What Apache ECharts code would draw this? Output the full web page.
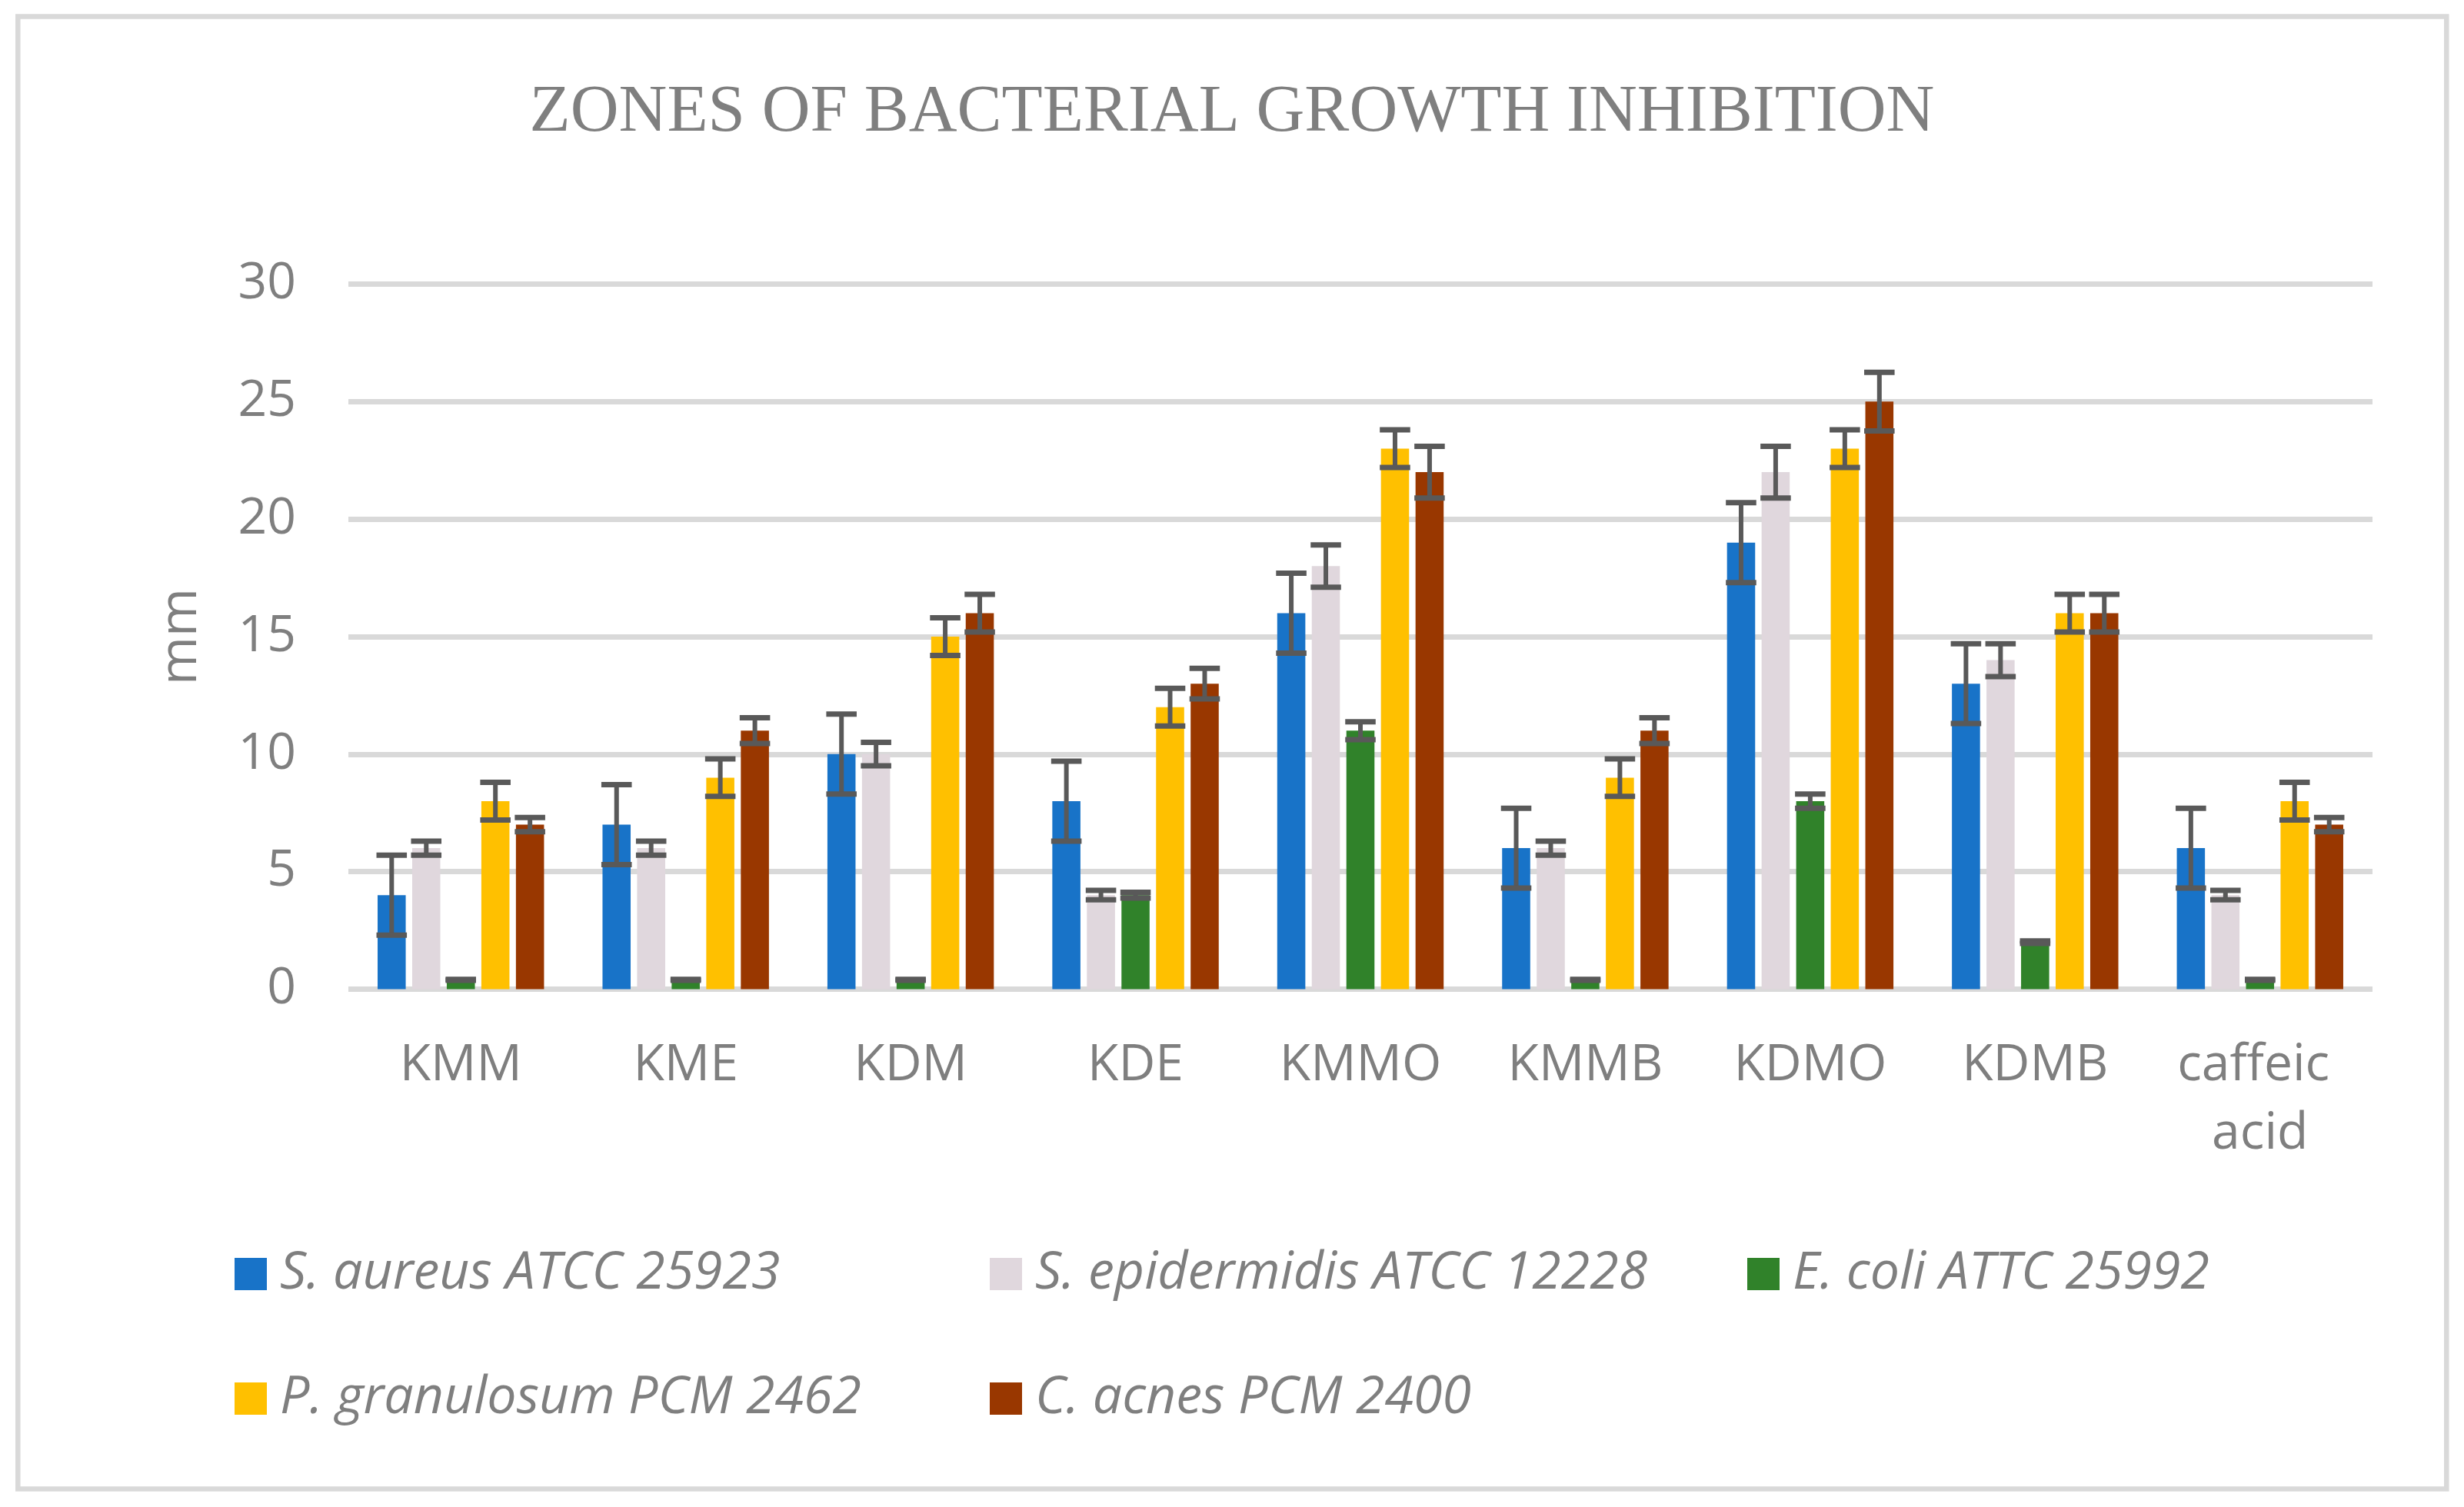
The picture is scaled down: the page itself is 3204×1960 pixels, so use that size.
<!DOCTYPE html>
<html>
<head>
<meta charset="utf-8">
<script src="https://cdn.jsdelivr.net/npm/echarts@6/dist/echarts.min.js"></script>
<style>
html,body{margin:0;padding:0;background:#fff;}
#chart{width:3204px;height:1960px;}
</style>
</head>
<body>
<div id="chart"></div>
<script>
const categories = ['KMM','KME','KDM','KDE','KMMO','KMMB','KDMO','KDMB','caffeic acid'];
const seriesNames = ['S. aureus ATCC 25923','S. epidermidis ATCC 12228','E. coli ATTC 25992','P. granulosum PCM 2462','C. acnes PCM 2400'];
const saureus = [4, 7, 10, 8, 16, 6, 19, 13, 6];
const saureusErr = [1.7, 1.7, 1.7, 1.7, 1.7, 1.7, 1.7, 1.7, 1.7];
const sepidermidis = [6, 6, 10, 4, 18, 6, 22, 14, 4];
const sepidermidisErr = [0.3, 0.3, 0.5, 0.2, 0.9, 0.3, 1.1, 0.7, 0.2];
const ecoli = [0.4, 0.4, 0.4, 4, 11, 0.4, 8, 2, 0.4];
const ecoliErr = [0.02, 0.02, 0.02, 0.12, 0.38, 0.02, 0.3, 0.05, 0.02];
const pgranulosum = [8, 9, 15, 12, 23, 9, 23, 16, 8];
const pgranulosumErr = [0.8, 0.8, 0.8, 0.8, 0.8, 0.8, 0.8, 0.8, 0.8];
const cacnes = [7, 11, 16, 13, 22, 11, 25, 16, 7];
const cacnesErr = [0.3, 0.55, 0.8, 0.65, 1.1, 0.55, 1.25, 0.8, 0.3];
const yTicks = [0, 5, 10, 15, 20, 25, 30];

const values = [saureus, sepidermidis, ecoli, pgranulosum, cacnes];
const errors = [saureusErr, sepidermidisErr, ecoliErr, pgranulosumErr, cacnesErr];
const colors = ['#1873c8', '#e0d7dd', '#30822a', '#ffc000', '#993700'];

const BAR_FRAC = 0.125;
const GAP_FRAC = 0.23;

const chart = echarts.init(document.getElementById('chart'), null, {renderer: 'canvas'});

const series = [];
values.forEach((vals, i) => {
  series.push({
    name: seriesNames[i],
    type: 'bar',
    data: vals,
    barWidth: (BAR_FRAC * 100) + '%',
    barGap: (GAP_FRAC * 100) + '%',
    itemStyle: {color: colors[i]},
    z: 2
  });
});
values.forEach((vals, i) => {
  series.push({
    name: 'err' + i,
    type: 'custom',
    z: 5,
    silent: true,
    data: vals.map((v, k) => [k, v - errors[i][k], v + errors[i][k]]),
    encode: {x: 0, y: [1, 2]},
    renderItem: function (params, api) {
      const k = api.value(0);
      const lo = api.coord([k, api.value(1)]);
      const hi = api.coord([k, api.value(2)]);
      const bw = api.size([1, 0])[0];
      const bar = bw * BAR_FRAC;
      const pitch = bar * (1 + GAP_FRAC);
      const x = lo[0] + (i - 2) * pitch;
      const half = bar / 2 + 1.5;
      const st = {stroke: '#595959', lineWidth: 7};
      return {
        type: 'group',
        children: [
          {type: 'line', shape: {x1: x, y1: hi[1], x2: x, y2: lo[1]}, style: {stroke: '#595959', lineWidth: 6}},
          {type: 'line', shape: {x1: x - half, y1: hi[1], x2: x + half, y2: hi[1]}, style: st},
          {type: 'line', shape: {x1: x - half, y1: lo[1], x2: x + half, y2: lo[1]}, style: st}
        ]
      };
    }
  });
});

const legendPos = [
  {left: 305, top: 1623},
  {left: 1287, top: 1623},
  {left: 2272, top: 1623},
  {left: 305, top: 1785},
  {left: 1287, top: 1785}
];
const legends = seriesNames.map((n, i) => ({
  data: [n],
  left: legendPos[i].left,
  top: legendPos[i].top,
  padding: 0,
  itemWidth: 42,
  itemHeight: 42,
  icon: 'rect',
  selectedMode: false,
  textStyle: {
    fontFamily: 'Open Sans',
    fontStyle: 'italic',
    fontSize: 68,
    color: '#7f7f7f',
    lineHeight: 42,
    padding: [0, 0, 0, 12]
  }
}));

const option = {
  backgroundColor: '#ffffff',
  animation: false,
  title: {
    text: 'ZONES OF BACTERIAL GROWTH INHIBITION',
    left: 'center',
    top: 99,
    textStyle: {fontFamily: 'Liberation Serif', fontSize: 87, fontWeight: 'normal', color: '#7f7f7f'}
  },
  legend: legends,
  grid: {left: 453, right: 119, top: 369.5, bottom: 673.5, containLabel: false},
  xAxis: {
    type: 'category',
    data: categories,
    axisLine: {show: false},
    axisTick: {show: false},
    axisLabel: {
      fontFamily: 'Open Sans', fontSize: 66, color: '#7f7f7f', margin: 55,
      lineHeight: 89, width: 280, overflow: 'break', interval: 0
    }
  },
  yAxis: {
    type: 'value',
    min: yTicks[0],
    max: yTicks[yTicks.length - 1],
    interval: yTicks[1] - yTicks[0],
    name: 'mm',
    nameLocation: 'middle',
    nameRotate: 90,
    nameGap: 183,
    nameTextStyle: {fontFamily: 'Open Sans', fontSize: 68, color: '#7f7f7f'},
    axisLine: {show: false},
    axisTick: {show: false},
    axisLabel: {fontFamily: 'Open Sans', fontSize: 66, color: '#7f7f7f', margin: 68},
    splitLine: {lineStyle: {color: '#d9d9d9', width: 7}}
  },
  graphic: [{
    type: 'rect',
    shape: {x: 23.3, y: 21.5, width: 3158, height: 1915},
    style: {fill: 'none', stroke: '#d9d9d9', lineWidth: 6.5},
    silent: true,
    z: 0
  }],
  series: series
};
chart.setOption(option);
</script>
</body>
</html>
